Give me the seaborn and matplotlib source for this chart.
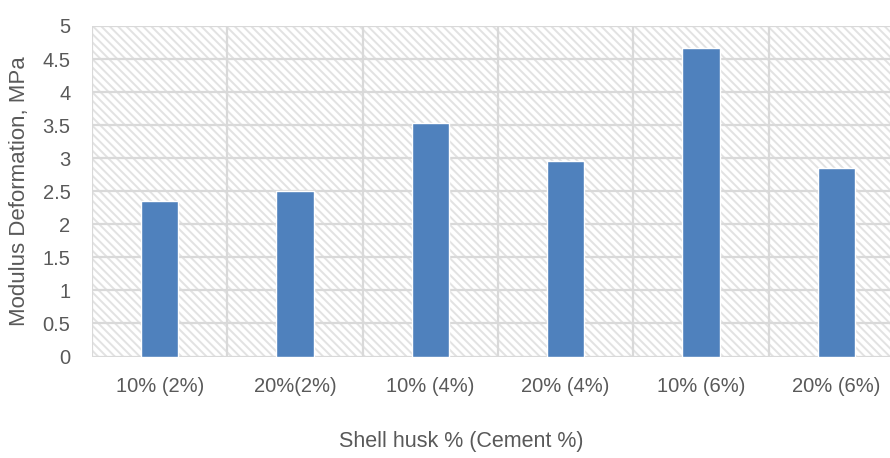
import matplotlib
matplotlib.use("Agg")
import matplotlib.pyplot as plt
import seaborn as sns
import pandas as pd
from matplotlib.patches import Rectangle

categories = ["10% (2%)", "20%(2%)", "10% (4%)", "20% (4%)", "10% (6%)", "20% (6%)"]
values = [2.35, 2.50, 3.53, 2.96, 4.67, 2.85]
yticks = [0, 0.5, 1, 1.5, 2, 2.5, 3, 3.5, 4, 4.5, 5]
ytick_labels = ["0", "0.5", "1", "1.5", "2", "2.5", "3", "3.5", "4", "4.5", "5"]

sns.set_theme(style="white")
plt.rcParams['font.family'] = ['Liberation Sans Narrow', 'Liberation Sans', 'DejaVu Sans']
plt.rcParams['hatch.linewidth'] = 1.4
plt.rcParams['hatch.color'] = '#E2E2E2'

df = pd.DataFrame({"cat": categories, "val": values})

W, H = 890, 458
left, right, top, bottom = 92, 904, 26, 356.5
fig = plt.figure(figsize=(W / 100, H / 100), dpi=100)
ax = fig.add_axes([left / W, 1 - bottom / H, (right - left) / W, (bottom - top) / H])

bg = Rectangle((0, 0), 1, 1, transform=ax.transAxes, facecolor='white',
               edgecolor='#E2E2E2', hatch='\\\\\\\\', linewidth=0, zorder=0)
ax.add_patch(bg)

sns.barplot(data=df, x="cat", y="val", color="#4F81BD", width=0.275,
            saturation=1, ax=ax, zorder=3)

ax.set_ylim(0, 5)
ax.set_xlim(-0.5, 5.5)
ax.set_yticks(yticks)
ax.set_yticklabels(ytick_labels)
for y in yticks:
    ax.axhline(y, color='#D9D9D9', lw=1.6, zorder=1)
for x in [-0.5 + i for i in range(7)]:
    ax.axvline(x, color='#D9D9D9', lw=1.6, zorder=1)

for s in ax.spines.values():
    s.set_visible(False)

ax.tick_params(axis='both', length=0, labelsize=14.5, labelcolor='#595959')
ax.tick_params(axis='x', pad=15)
ax.tick_params(axis='y', pad=15.5)
ax.set_xlabel("Shell husk % (Cement %)", fontsize=15.5, color='#595959')
ax.xaxis.set_label_coords((461 - left) / (right - left), 1 - (442 - top) / (bottom - top))
ax.xaxis.label.set_va('center')
ax.set_ylabel("Modulus Deformation, MPa", fontsize=16, color='#595959')
ax.yaxis.set_label_coords((20 - left) / (right - left), 0.5)
ax.yaxis.label.set_va('center')

fig.savefig("out.png", dpi=100)
